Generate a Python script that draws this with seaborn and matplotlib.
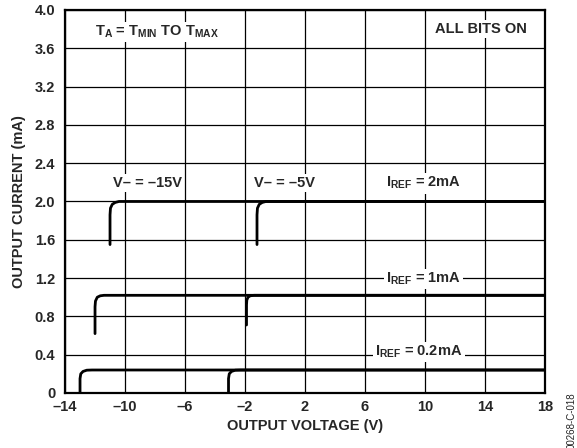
import matplotlib
matplotlib.use("Agg")
import matplotlib.pyplot as plt
import seaborn as sns
import pandas as pd

# ---- data ----
x_ticks = [-14, -10, -6, -2, 2, 6, 10, 14, 18]
x_tick_labels = ["–14", "–10", "–6", "–2", "2", "6", "10", "14", "18"]
y_ticks = [0, 0.4, 0.8, 1.2, 1.6, 2.0, 2.4, 2.8, 3.2, 3.6, 4.0]
y_tick_labels = ["0", "0.4", "0.8", "1.2", "1.6", "2.0", "2.4", "2.8", "3.2", "3.6", "4.0"]

# IREF = 2mA
i2_m15_x = [-11.0, -11.0, -10.97, -10.85, -10.65, -10.4, 18.0]
i2_m15_y = [1.55, 1.86, 1.93, 1.97, 1.99, 2.0, 2.0]
i2_m5_x = [-1.2, -1.2, -1.17, -1.05, -0.85, -0.6, 18.0]
i2_m5_y = [1.55, 1.86, 1.93, 1.97, 1.99, 2.0, 2.0]
# IREF = 1mA
i1_m15_x = [-12.0, -12.0, -11.97, -11.85, -11.65, -11.4, 18.0]
i1_m15_y = [0.62, 0.9, 0.96, 1.0, 1.015, 1.02, 1.02]
i1_m5_x = [-1.9, -1.9, -1.88, -1.8, -1.65, -1.4, 18.0]
i1_m5_y = [0.71, 0.92, 0.97, 1.0, 1.015, 1.02, 1.02]
# IREF = 0.2mA
i02_m15_x = [-13.0, -13.0, -12.95, -12.8, -12.55, -12.2, 18.0]
i02_m15_y = [0.0, 0.15, 0.2, 0.225, 0.238, 0.24, 0.24]
i02_m5_x = [-3.1, -3.1, -3.05, -2.9, -2.65, -2.3, 18.0]
i02_m5_y = [0.0, 0.15, 0.2, 0.225, 0.238, 0.24, 0.24]

curves = {
    "2mA -15V": (i2_m15_x, i2_m15_y),
    "2mA -5V": (i2_m5_x, i2_m5_y),
    "1mA -15V": (i1_m15_x, i1_m15_y),
    "1mA -5V": (i1_m5_x, i1_m5_y),
    "0.2mA -15V": (i02_m15_x, i02_m15_y),
    "0.2mA -5V": (i02_m5_x, i02_m5_y),
}

rows = []
for name, (xs, ys) in curves.items():
    for i, (xv, yv) in enumerate(zip(xs, ys)):
        rows.append({"curve": name, "order": i, "V": xv, "I": yv})
df = pd.DataFrame(rows)

sns.set_style("white")
plt.rcParams["font.family"] = ["Liberation Sans", "DejaVu Sans"]
plt.rcParams["font.weight"] = "bold"
plt.rcParams["mathtext.fontset"] = "custom"
plt.rcParams["mathtext.rm"] = "Liberation Sans:bold"
plt.rcParams["mathtext.it"] = "Liberation Sans:bold"
plt.rcParams["mathtext.bf"] = "Liberation Sans:bold"

fig = plt.figure(figsize=(5.77, 4.48), dpi=100)
ax = fig.add_axes([0.1127, 0.1228, 0.8318, 0.855])

sns.lineplot(data=df, x="V", y="I", units="curve", estimator=None, sort=False,
             color="black", linewidth=2.0, ax=ax, zorder=3)

ax.set_xlim(-14, 18)
ax.set_ylim(0, 4.0)
ax.set_xticks(x_ticks)
ax.set_xticklabels(x_tick_labels)
ax.set_yticks(y_ticks)
ax.set_yticklabels(y_tick_labels)
ax.tick_params(axis="x", length=0, labelsize=10.5, pad=5)
ax.tick_params(axis="y", length=0, labelsize=10.5, pad=7)
for lab in ax.get_xticklabels() + ax.get_yticklabels():
    lab.set_fontweight("bold")
ax.grid(True, color="black", linewidth=0.9)
ax.set_axisbelow(True)
for sp in ax.spines.values():
    sp.set_color("black")
    sp.set_linewidth(1.6)

ax.set_xlabel("OUTPUT VOLTAGE (V)", fontsize=10.5, fontweight="bold", labelpad=4)
ax.set_ylabel("OUTPUT CURRENT (mA)", fontsize=10.5, fontweight="bold", labelpad=6)

box = dict(facecolor="white", edgecolor="none", pad=1.5)
tk = dict(fontsize=10.5, fontweight="bold", ha="center", va="center", bbox=box, zorder=4)
ax.text(-7.9, 3.77, r"T$_{\mathrm{A}}$ = T$_{\mathrm{MIN}}$ TO T$_{\mathrm{MAX}}$", **tk)
ax.text(13.7, 3.80, "ALL BITS ON", **tk)
ax.text(-8.5, 2.19, "V– = –15V", **tk)
ax.text(0.65, 2.19, "V– = –5V", **tk)
ax.text(9.9, 2.19, r"I$_{\mathrm{REF}}$ = 2mA", **tk)
ax.text(9.9, 1.19, r"I$_{\mathrm{REF}}$ = 1mA", **tk)
ax.text(9.6, 0.43, r"I$_{\mathrm{REF}}$ = 0.2mA", **tk)

fig.text(0.991, 0.062, "00268-C-018", rotation=90, fontsize=7, fontweight="normal",
         ha="center", va="center")

fig.savefig("out.png", dpi=100)
